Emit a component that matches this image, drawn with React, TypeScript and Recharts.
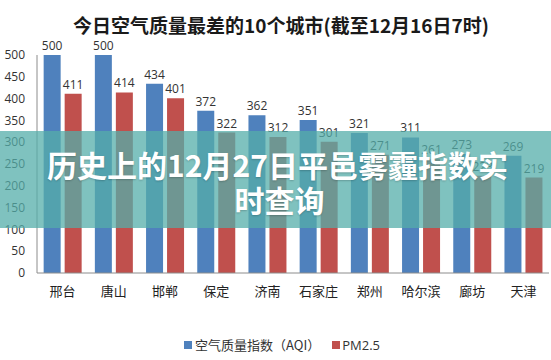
import React from "react";
import { BarChart, Bar, XAxis, YAxis, LabelList, Legend } from "recharts";

const cities = ["邢台", "唐山", "邯郸", "保定", "济南", "石家庄", "郑州", "哈尔滨", "廊坊", "天津"];
const aqi = [500, 500, 434, 372, 362, 351, 321, 311, 273, 269];
const pm25 = [411, 414, 401, 322, 312, 301, 271, 261, 223, 219];
const yTicks = [0, 50, 100, 150, 200, 250, 300, 350, 400, 450, 500];
const titleText = "今日空气质量最差的10个城市(截至12月16日7时)";
const bannerLine1 = "历史上的12月27日平邑雾霾指数实";
const bannerLine2 = "时查询";
const seriesNames = { aqi: "空气质量指数（AQI）", pm: "PM2.5" };

const data = cities.map((c, i) => ({ city: c, aqi: aqi[i], pm: pm25[i] }));

const BLUE = "#4F81BD";
const RED = "#C0504D";
const CJK = '"Noto Sans CJK SC", "Noto Sans", sans-serif';
const NUM = '"Open Sans", "Noto Sans", sans-serif';

const LegendContent = () => (
  <div style={{ display: "flex", alignItems: "center", fontFamily: CJK, fontSize: 13, color: "#333", lineHeight: "16px" }}>
    <span style={{ display: "inline-block", width: 8, height: 8, background: BLUE, marginLeft: 184, marginRight: 3 }} />
    <span>{seriesNames.aqi}</span>
    <span style={{ display: "inline-block", width: 8, height: 8, background: RED, marginLeft: 12, marginRight: 2 }} />
    <span style={{ fontFamily: NUM }}>{seriesNames.pm}</span>
  </div>
);

export default function App() {
  return (
    <div style={{ position: "absolute", left: 0, top: 0, width: 551, height: 360, background: "#fff", overflow: "hidden" }}>
      <BarChart
        width={551}
        height={360}
        data={data}
        margin={{ top: 55, right: 2, bottom: 57, left: 0 }}
        barCategoryGap="13%"
        barGap={4}
      >
        <XAxis
          dataKey="city"
          axisLine={{ stroke: "#8c8c8c" }}
          tickLine={false}
          tick={{ fill: "#222", fontSize: 13, fontFamily: CJK }}
          tickMargin={8}
          interval={0}
        />
        <YAxis
          domain={[0, 500]}
          ticks={yTicks}
          width={37}
          axisLine={{ stroke: "#8c8c8c" }}
          tickLine={false}
          tickMargin={6}
          tick={{ fill: "#333", fontSize: 12, fontFamily: NUM }}
          interval={0}
        />
        <Legend
          layout="horizontal"
          verticalAlign="middle"
          align="center"
          wrapperStyle={{ top: 337, left: 0, width: 551 }}
          content={<LegendContent />}
        />
        <Bar dataKey="aqi" name={seriesNames.aqi} fill={BLUE} isAnimationActive={false}>
          <LabelList dataKey="aqi" position="top" offset={5} style={{ fill: "#333", fontSize: 12, fontFamily: NUM }} />
        </Bar>
        <Bar dataKey="pm" name={seriesNames.pm} fill={RED} isAnimationActive={false}>
          <LabelList dataKey="pm" position="top" offset={5} style={{ fill: "#333", fontSize: 12, fontFamily: NUM }} />
        </Bar>
      </BarChart>
      <div
        style={{
          position: "absolute",
          left: 0,
          top: 12,
          width: 562,
          textAlign: "center",
          fontFamily: CJK,
          fontWeight: 700,
          fontSize: 19,
          lineHeight: "26px",
          color: "#1a1a1a",
        }}
      >
        {titleText}
      </div>
      <div
        style={{
          position: "absolute",
          left: 0,
          top: 131,
          width: 551,
          height: 97,
          background: "rgba(84,174,170,0.75)",
          boxSizing: "border-box",
          paddingTop: 16,
          textAlign: "center",
          fontFamily: CJK,
          fontWeight: 700,
          fontSize: 30,
          lineHeight: "35px",
          color: "#fff",
          textShadow: "0 1px 2px rgba(0,0,0,0.2)",
        }}
      >
        <div style={{ paddingLeft: 4, whiteSpace: "nowrap" }}>{bannerLine1}</div>
        <div style={{ paddingLeft: 8 }}>{bannerLine2}</div>
      </div>
    </div>
  );
}
